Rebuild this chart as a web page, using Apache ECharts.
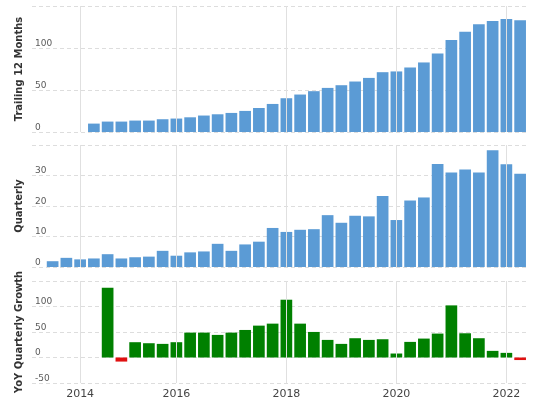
<!DOCTYPE html>
<html>
<head>
<meta charset="utf-8">
<script src="https://cdn.jsdelivr.net/npm/echarts@6/dist/echarts.min.js"></script>
<style>
  html, body { margin: 0; padding: 0; background: #fff; }
  #chart { width: 550px; height: 400px; }
</style>
</head>
<body>
<div id="chart"></div>
<script>
// quarter end dates (first one has no data, it only pads the axis)
var quarters = [
    '2013-06-30', '2013-09-30', '2013-12-31', '2014-03-31', '2014-06-30', '2014-09-30',
    '2014-12-31', '2015-03-31', '2015-06-30', '2015-09-30', '2015-12-31', '2016-03-31',
    '2016-06-30', '2016-09-30', '2016-12-31', '2017-03-31', '2017-06-30', '2017-09-30',
    '2017-12-31', '2018-03-31', '2018-06-30', '2018-09-30', '2018-12-31', '2019-03-31',
    '2019-06-30', '2019-09-30', '2019-12-31', '2020-03-31', '2020-06-30', '2020-09-30',
    '2020-12-31', '2021-03-31', '2021-06-30', '2021-09-30', '2021-12-31', '2022-03-31'
];
var ttm = [
    null, null, null, null, 10.0, 12.4, 12.4, 13.6, 13.6, 15.2, 16.0, 17.5,
    19.6, 21.1, 22.7, 25.1, 28.6, 33.4, 40.2, 44.6, 48.6, 52.5, 55.7, 60.1,
    64.4, 71.2, 72.1, 76.8, 82.8, 93.6, 109.4, 119.3, 128.2, 132.1, 134.5, 132.9
];
var quarterly = [
    null, 1.9, 3.0, 2.5, 2.8, 4.2, 2.8, 3.2, 3.4, 5.3, 3.7, 4.8,
    5.1, 7.6, 5.3, 7.4, 8.3, 12.8, 11.5, 12.2, 12.4, 17.0, 14.5, 16.8,
    16.6, 23.3, 15.4, 21.8, 22.8, 33.8, 31.0, 32.0, 31.0, 38.3, 33.7, 30.6
];
var yoyGrowth = [
    null, null, null, null, null, 136.7, -8, 30, 28, 26.7, 30, 48.8,
    48.8, 44.3, 48.8, 54, 62.5, 66.4, 113.3, 66.4, 50.1, 34.5, 26.7, 37.8,
    34.5, 35.8, 7.8, 30.6, 37.1, 46.9, 102.2, 47.5, 37.8, 13, 9.1, -5
];
// where the year labels / vertical lines sit
var tickDates = ['2014-03-31', '2015-12-31', '2017-12-31', '2019-12-31', '2021-12-31'];
var tickLabels = ['2014', '2016', '2018', '2020', '2022'];

var font = 'DejaVu Sans, Verdana, sans-serif';
var grids = [
    { left: 32, right: 23, top: 6, height: 126 },
    { left: 32, right: 23, top: 145, height: 122 },
    { left: 32, right: 23, top: 281, height: 102 }
];

function xAxisFor(i, showLabels) {
    return {
        type: 'category',
        gridIndex: i,
        data: quarters,
        axisLine: { show: false },
        axisTick: { show: false },
        splitLine: { show: false },
        axisLabel: {
            show: showLabels,
            interval: function (idx, value) {
                return tickDates.indexOf(value) >= 0;
            },
            formatter: function (value) {
                return tickLabels[tickDates.indexOf(value)];
            },
            color: '#444',
            fontSize: 11,
            fontFamily: font,
            margin: 6
        }
    };
}

function yAxisFor(i, name, min, max, interval) {
    return {
        type: 'value',
        gridIndex: i,
        min: min,
        max: max,
        interval: interval,
        name: name,
        nameLocation: 'middle',
        nameGap: 8,
        nameTextStyle: { fontFamily: font, fontSize: 10, fontWeight: 'bold', color: '#333' },
        axisLine: { show: false },
        axisTick: { show: false },
        axisLabel: {
            inside: true,
            showMaxLabel: false,
            verticalAlign: 'bottom',
            margin: 3,
            color: '#5a5a5a',
            fontSize: 9,
            fontFamily: font
        },
        splitLine: {
            show: true,
            lineStyle: { color: '#ddd', type: [4, 3], width: 1 }
        }
    };
}

var yearLines = {
    silent: true,
    symbol: 'none',
    label: { show: false },
    lineStyle: { color: '#e0e0e0', type: 'solid', width: 1 },
    data: tickDates.map(function (d) { return { xAxis: d }; })
};

var chart = echarts.init(document.getElementById('chart'));
var option = {
    animation: false,
    grid: grids,
    xAxis: [xAxisFor(0, false), xAxisFor(1, false), xAxisFor(2, true)],
    yAxis: [
        yAxisFor(0, 'Trailing 12 Months', 0, 150, 50),
        yAxisFor(1, 'Quarterly', 0, 40, 10),
        yAxisFor(2, 'YoY Quarterly Growth', -50, 150, 50)
    ],
    series: [
        {
            name: 'Trailing 12 Months',
            type: 'bar',
            xAxisIndex: 0,
            yAxisIndex: 0,
            data: ttm,
            barWidth: '85%',
            itemStyle: { color: '#5b9bd5' },
            markLine: yearLines,
            z: 3
        },
        {
            name: 'Quarterly',
            type: 'bar',
            xAxisIndex: 1,
            yAxisIndex: 1,
            data: quarterly,
            barWidth: '85%',
            itemStyle: { color: '#5b9bd5' },
            markLine: yearLines,
            z: 3
        },
        {
            name: 'YoY Quarterly Growth',
            type: 'bar',
            xAxisIndex: 2,
            yAxisIndex: 2,
            data: yoyGrowth,
            barWidth: '85%',
            itemStyle: {
                color: function (p) {
                    return p.value < 0 ? '#e01010' : '#008000';
                }
            },
            markLine: yearLines,
            z: 3
        }
    ]
};
option && chart.setOption(option);
</script>
</body>
</html>
